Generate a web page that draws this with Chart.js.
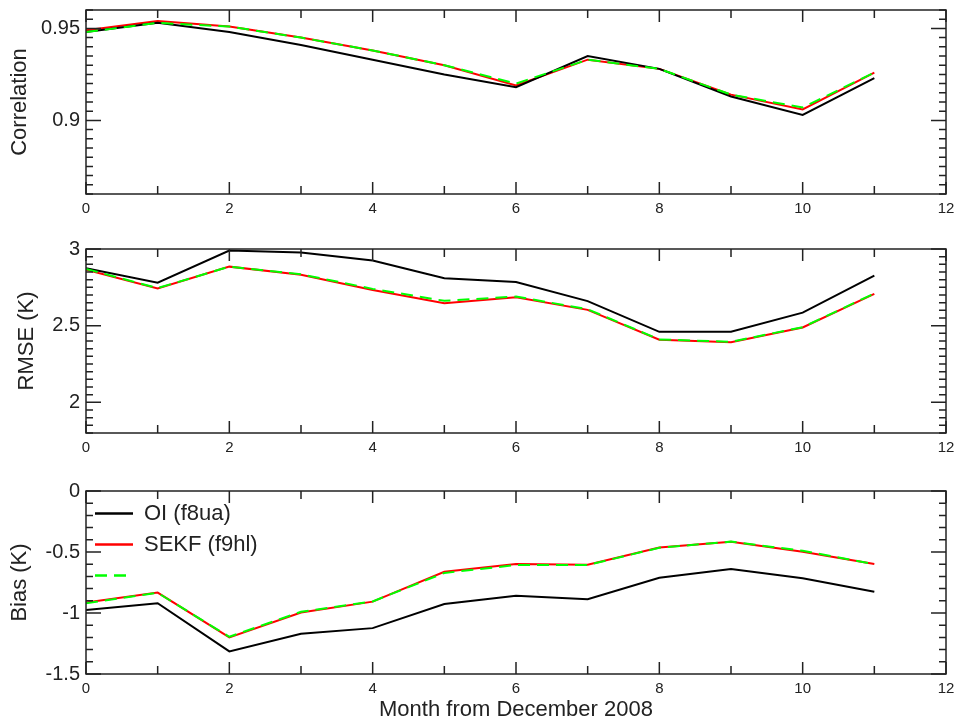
<!DOCTYPE html>
<html><head><meta charset="utf-8">
<script src="https://cdn.jsdelivr.net/npm/chart.js@4/dist/chart.umd.min.js"></script>
<style>
html,body{margin:0;padding:0;background:#fff;width:957px;height:724px;overflow:hidden;}
canvas{position:absolute;left:0;}
</style></head><body>
<canvas id="c1" width="957" height="230" style="top:0px"></canvas>
<canvas id="c2" width="957" height="230" style="top:239px"></canvas>
<canvas id="c3" width="957" height="243" style="top:481px"></canvas>
<script>
// ---------- data ----------
const months = [0,1,2,3,4,5,6,7,8,9,10,11];
const seriesLabels = ['OI (f8ua)', 'SEKF (f9hl)', ''];

const corrOI    = [0.948,0.953,0.948,0.941,0.933,0.925,0.918,0.935,0.928,0.913,0.903,0.923];
const corrSEKF  = [0.949,0.954,0.951,0.945,0.938,0.930,0.919,0.933,0.928,0.914,0.906,0.926];
const corrThird = [0.948,0.953,0.951,0.945,0.938,0.930,0.920,0.933,0.928,0.914,0.907,0.926];

const rmseOI    = [2.875,2.780,2.990,2.977,2.925,2.810,2.785,2.660,2.460,2.460,2.585,2.827];
const rmseSEKF  = [2.865,2.742,2.885,2.832,2.733,2.647,2.685,2.603,2.408,2.392,2.488,2.707];
const rmseThird = [2.870,2.745,2.885,2.835,2.740,2.662,2.690,2.607,2.410,2.395,2.490,2.710];

const biasOI    = [-0.975,-0.920,-1.315,-1.170,-1.124,-0.926,-0.858,-0.887,-0.711,-0.640,-0.716,-0.825];
const biasSEKF  = [-0.915,-0.833,-1.200,-0.996,-0.907,-0.662,-0.599,-0.604,-0.463,-0.417,-0.498,-0.599];
const biasThird = [-0.920,-0.835,-1.195,-0.990,-0.905,-0.672,-0.607,-0.607,-0.465,-0.415,-0.490,-0.599];

const xTickValues = [0,2,4,6,8,10,12];
const xTickLabels = ['0','2','4','6','8','10','12'];
const corrTickValues = [0.9,0.95];
const corrTickLabels = ['0.9','0.95'];
const rmseTickValues = [2,2.5,3];
const rmseTickLabels = ['2','2.5','3'];
const biasTickValues = [-1.5,-1,-0.5,0];
const biasTickLabels = ['-1.5','-1','-0.5','0'];

const xTitleText = 'Month from December 2008';
// ---------------------------

const FONT = 'Liberation Sans, Arial, Helvetica, sans-serif';
const TXT = '#222';
Chart.defaults.font.family = FONT;

const framePlugin = {
  id: 'frame',
  afterDatasetsDraw(chart, args, opts) {
    const {ctx, chartArea: a, scales} = chart;
    const xs = scales.x, ys = scales.y;
    ctx.save();
    ctx.strokeStyle = '#222';
    ctx.lineWidth = 1.5;
    ctx.setLineDash([]);
    ctx.beginPath();
    const nx = Math.round((xs.max - xs.min) / opts.xMinor);
    for (let i = 0; i <= nx; i++) {
      const v = xs.min + i * opts.xMinor;
      const px = xs.getPixelForValue(v);
      const major = xTickValues.some(t => Math.abs(t - v) < 1e-9);
      const len = major ? 12 : 8;
      ctx.moveTo(px, a.bottom); ctx.lineTo(px, a.bottom - len);
      ctx.moveTo(px, a.top); ctx.lineTo(px, a.top + len);
    }
    const ny = Math.round((ys.max - ys.min) / opts.yMinor);
    for (let i = 0; i <= ny; i++) {
      const v = ys.min + i * opts.yMinor;
      const py = ys.getPixelForValue(v);
      const major = opts.yMajor.some(t => Math.abs(t - v) < 1e-7);
      const len = major ? 15 : 7;
      ctx.moveTo(a.left, py); ctx.lineTo(a.left + len, py);
      ctx.moveTo(a.right, py); ctx.lineTo(a.right - len, py);
    }
    ctx.stroke();
    ctx.strokeRect(a.left, a.top, a.right - a.left, a.bottom - a.top);
    ctx.restore();
  }
};

function pts(arr) { return months.map((m, i) => ({x: m, y: arr[i]})); }

function makeDatasets(a, b, c) {
  return [
    {label: seriesLabels[0], data: pts(a), borderColor: '#000000', backgroundColor: '#000000', borderWidth: 2, order: 1},
    {label: seriesLabels[1], data: pts(b), borderColor: '#ff0000', backgroundColor: '#ff0000', borderWidth: 2, order: 2},
    {label: seriesLabels[2], data: pts(c), borderColor: '#00ff00', backgroundColor: '#00ff00', borderWidth: 2, borderDash: [12, 7], order: 0}
  ];
}

function makeOptions(o) {
  return {
    responsive: false,
    maintainAspectRatio: false,
    animation: false,
    events: [],
    layout: {padding: {top: 10, right: 11, left: 0, bottom: 0}},
    elements: {line: {tension: 0, borderCapStyle: 'butt'}, point: {radius: 0}},
    plugins: {
      tooltip: {enabled: false},
      legend: o.legend ? {
        display: true,
        position: 'chartArea',
        align: 'start',
        title: {display: true, text: '', font: {family: FONT, size: 10.5}, padding: 0},
        labels: {
          usePointStyle: true,
          pointStyle: 'line',
          pointStyleWidth: 38,
          font: {family: FONT, size: 22},
          color: TXT,
          padding: 9,
          generateLabels: chart => chart.data.datasets.map((ds, i) => ({
            text: ds.label,
            datasetIndex: i,
            fillStyle: ds.borderColor,
            strokeStyle: ds.borderColor,
            lineWidth: 2.5,
            lineDash: ds.borderDash || [],
            lineCap: 'butt',
            pointStyle: 'line',
            fontColor: TXT,
            hidden: false
          }))
        }
      } : {display: false},
      frame: {xMinor: 1, yMinor: o.yMinor, yMajor: o.yTicks}
    },
    scales: {
      x: {
        type: 'linear', min: 0, max: 12,
        grid: {display: false, drawTicks: false},
        border: {display: false},
        afterBuildTicks: s => { s.ticks = xTickValues.map(v => ({value: v})); },
        ticks: {
          padding: 6, color: TXT, maxRotation: 0, autoSkip: false,
          font: {family: FONT, size: 15},
          callback: v => { const i = xTickValues.indexOf(v); return i >= 0 ? xTickLabels[i] : ''; }
        },
        title: o.xTitle ? {display: true, text: o.xTitle, color: TXT, font: {family: FONT, size: 22}, padding: {top: 0, bottom: 1}} : {display: false},
        afterFit: s => { s.height = o.xHeight; s.paddingLeft = 0; s.paddingRight = 0; }
      },
      y: {
        type: 'linear', min: o.yMin, max: o.yMax,
        grid: {display: false, drawTicks: false},
        border: {display: false},
        afterBuildTicks: s => { s.ticks = o.yTicks.map(v => ({value: v})); },
        ticks: {
          padding: 6, color: TXT, autoSkip: false,
          font: {family: FONT, size: 20},
          callback: v => { const i = o.yTicks.indexOf(v); return i >= 0 ? o.yLabels[i] : ''; }
        },
        title: {display: true, text: o.yTitle, color: TXT, font: {family: FONT, size: 22}, padding: {top: o.titlePad, bottom: 0}},
        afterFit: s => { s.width = 86; s.paddingTop = 0; s.paddingBottom = 0; }
      }
    }
  };
}

new Chart(document.getElementById('c1'), {
  type: 'line',
  data: {datasets: makeDatasets(corrOI, corrSEKF, corrThird)},
  options: makeOptions({yMin: 0.86, yMax: 0.96, yTicks: corrTickValues, yLabels: corrTickLabels, yMinor: 0.005, yTitle: 'Correlation', titlePad: 7, xHeight: 36, legend: false}),
  plugins: [framePlugin]
});
new Chart(document.getElementById('c2'), {
  type: 'line',
  data: {datasets: makeDatasets(rmseOI, rmseSEKF, rmseThird)},
  options: makeOptions({yMin: 1.8, yMax: 3.0, yTicks: rmseTickValues, yLabels: rmseTickLabels, yMinor: 0.05, yTitle: 'RMSE (K)', titlePad: 14, xHeight: 36, legend: false}),
  plugins: [framePlugin]
});
new Chart(document.getElementById('c3'), {
  type: 'line',
  data: {datasets: makeDatasets(biasOI, biasSEKF, biasThird)},
  options: makeOptions({yMin: -1.5, yMax: 0, yTicks: biasTickValues, yLabels: biasTickLabels, yMinor: 0.1, yTitle: 'Bias (K)', titlePad: 7, xHeight: 50, xTitle: xTitleText, legend: true}),
  plugins: [framePlugin]
});
</script>
</body></html>
